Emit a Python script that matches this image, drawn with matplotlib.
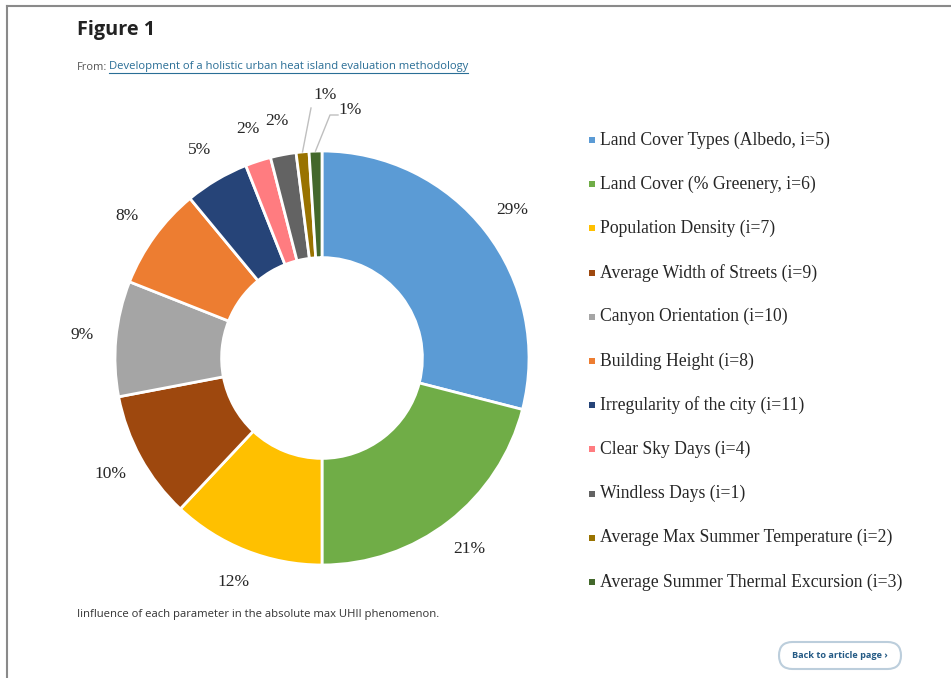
import numpy as np
import matplotlib
matplotlib.use("Agg")
import matplotlib.pyplot as plt
from matplotlib.patches import FancyBboxPatch

# share of each parameter in the absolute max UHII (percent)
params = [
    "Land Cover Types (Albedo, i=5)",
    "Land Cover (% Greenery, i=6)",
    "Population Density (i=7)",
    "Average Width of Streets (i=9)",
    "Canyon Orientation (i=10)",
    "Building Height (i=8)",
    "Irregularity of the city (i=11)",
    "Clear Sky Days (i=4)",
    "Windless Days (i=1)",
    "Average Max Summer Temperature (i=2)",
    "Average Summer Thermal Excursion (i=3)",
]
shares = [29, 21, 12, 10, 9, 8, 5, 2, 2, 1, 1]
colors = ["#5B9BD5", "#70AD47", "#FFC000", "#9E480E", "#A5A5A5", "#ED7D31",
          "#264478", "#FF7C80", "#636363", "#997300", "#43682B"]

W, H = 951, 678
fig = plt.figure(figsize=(W / 100, H / 100), dpi=100)
fig.patch.set_facecolor("white")
ax = fig.add_axes([0, 0, 1, 1])

cx, cy, R = 322, H - 358, 207
ax.pie(shares, colors=colors, startangle=90, counterclock=False,
       center=(cx, cy), radius=R,
       wedgeprops=dict(width=R * 0.515, edgecolor="white", linewidth=2))
ax.set_xlim(0, W)
ax.set_ylim(0, H)
ax.set_aspect("equal")
ax.axis("off")

serif = "Liberation Serif"
lead = "#BFBFBF"

# percentage labels outside the ring
edges = 90 - 3.6 * np.concatenate([[0], np.cumsum(shares)])
mids = (edges[:-1] + edges[1:]) / 2
n = len(shares)
for i, (v, a) in enumerate(zip(shares, mids)):
    t = np.deg2rad(a)
    if i < n - 2:
        r = R * 1.165
        ax.text(cx + r * np.cos(t), cy + r * np.sin(t), f"{v}%",
                ha="center", va="center", family=serif, fontsize=12.5,
                color="#262626")
        continue
    # the two thinnest slices get leader lines
    px, py = cx + R * np.cos(t), cy + R * np.sin(t)
    if i == n - 2:
        tx, ty = 325, H - 95
        ax.plot([px, tx - 14], [py, ty - 13], color=lead, lw=1)
    else:
        tx, ty = 350, H - 110
        ax.plot([px, tx - 20, tx - 12], [py, ty - 5, ty - 5], color=lead, lw=1)
    ax.text(tx, ty, f"{v}%", ha="center", va="center", family=serif,
            fontsize=12.5, color="#262626")

# legend column
for i, (name, c) in enumerate(zip(params, colors)):
    y = H - (140 + i * 44.2)
    ax.add_patch(plt.Rectangle((589, y - 3), 6, 6, color=c, lw=0))
    ax.text(600, y, name, ha="left", va="center", family=serif,
            fontsize=12.7, color="#262626")

# page text
ax.text(77, H - 30, "Figure 1", family="Open Sans", fontweight="bold",
        fontsize=14.3, color="#222222", va="center")
ax.text(77, H - 67, "From:", family="Open Sans", fontsize=8,
        color="#555555", va="center")
ax.text(109, H - 67,
        "Development of a holistic urban heat island evaluation methodology",
        family="Open Sans", fontsize=8.1, color="#2A6E96", va="center")
ax.plot([109, 468], [H - 72.5, H - 72.5], color="#2A6E96", lw=0.8)
ax.text(77, H - 615, "Iinfluence of each parameter in the absolute max UHII phenomenon.",
        family="Open Sans", fontsize=8.1, color="#333333", va="center")

btn = FancyBboxPatch((779, H - 669), 122, 27,
                     boxstyle="round,pad=0,rounding_size=13.5",
                     facecolor="white", edgecolor="#BCCEDC", lw=1.5)
ax.add_patch(btn)
ax.text(840, H - 655.5, "Back to article page \u203a", family="Open Sans",
        fontweight="bold", fontsize=6.6, color="#245A85",
        ha="center", va="center")

# page frame
ax.plot([6.5, 6.5], [0, H - 5.5], color="#8A8A8A", lw=1.5)
ax.plot([6.5, W], [H - 5.5, H - 5.5], color="#8A8A8A", lw=1.5)

fig.savefig("out.png", dpi=100, facecolor="white")
